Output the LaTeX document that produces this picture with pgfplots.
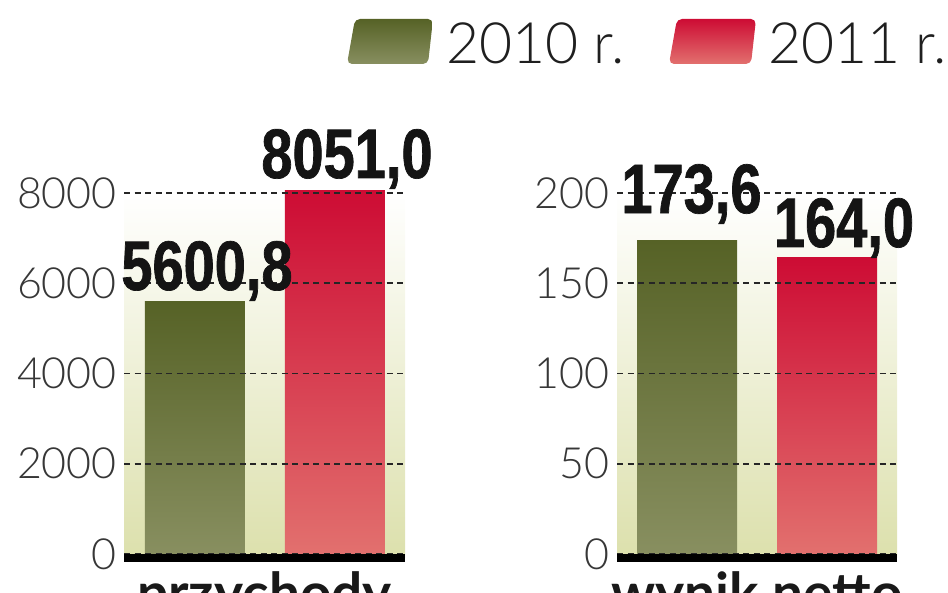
\documentclass[border=0pt]{standalone}
\usepackage{fontspec}
\usepackage{pgfplots}
\pgfplotsset{compat=1.18}
\setmainfont{Lato}
\newfontfamily\lightfont{Lato Light}
\newfontfamily\valfont[FakeStretch=0.8, FakeBold=1]{Liberation Sans Bold}
\definecolor{gtop}{RGB}{86,98,38}
\definecolor{gbot}{RGB}{136,143,96}
\definecolor{rtop}{RGB}{205,12,52}
\definecolor{rbot}{RGB}{226,112,110}
\definecolor{bgc}{RGB}{220,224,172}
\definecolor{tickc}{RGB}{55,55,55}
\pgfplotsset{
  panel/.style={
    anchor=south west, scale only axis, height=365pt,
    axis on top, clip=false,
    axis x line*=bottom, axis y line*=left,
    x axis line style={line width=8pt, black, -},
    y axis line style={draw=none},
    xtick=\empty, major tick length=0pt,
    ymajorgrids,
    grid style={black!85, line width=1.8pt, dash pattern=on 6pt off 4.5pt},
    /pgf/number format/1000 sep={},
    /pgf/number format/assume math mode=true,
    yticklabel style={font=\lightfont\fontsize{43}{43}\selectfont, text=tickc, inner sep=0pt, xshift=-7pt},
    axis background/.style={shade, top color=white, middle color=bgc!35, bottom color=bgc},
    xlabel style={font=\bfseries\fontsize{55}{55}\selectfont, text=black!90, anchor=base, at={(axis description cs:0.5,0)}, yshift=-55pt},
  },
  gbar/.style={ybar, bar shift=0pt, bar width=100pt, draw=none, top color=gtop, bottom color=gbot},
  rbar/.style={ybar, bar shift=0pt, bar width=100pt, draw=none, top color=rtop, bottom color=rbot},
}
\tikzset{lab/.style={anchor=base, font=\valfont\fontsize{70}{70}\selectfont, text=black!92, inner sep=0pt}}
\begin{document}
\begin{tikzpicture}[x=1pt,y=1pt]
\useasboundingbox (0,0) rectangle (948,593);
% legend
\shade[top color=gtop, bottom color=gbot, rounded corners=5pt]
  (355,574) -- (433,574) -- (428,529) -- (347,529) -- cycle;
\node[anchor=base west, inner sep=0pt, font=\lightfont\fontsize{57}{57}\selectfont, text=black!88] at (446,529) {2010 r.};
\shade[top color=rtop, bottom color=rbot, rounded corners=5pt]
  (677,574) -- (756,574) -- (751,529) -- (669,529) -- cycle;
\node[anchor=base west, inner sep=0pt, font=\lightfont\fontsize{57}{57}\selectfont, text=black!88] at (768,529) {2011 r.};
% left panel
\begin{axis}[panel, at={(124pt,35pt)}, width=281pt,
  xmin=-0.507, xmax=1.5, ymin=-88.6, ymax=8000,
  ytick={0,2000,4000,6000,8000}, xlabel={przychody}]
\addplot[gbar] coordinates {(0,5600.8)};
\addplot[rbar] coordinates {(1,8051.0)};
\coordinate (L1) at (axis cs:0,5600.8);
\coordinate (L2) at (axis cs:1,8051.0);
\end{axis}
% right panel
\begin{axis}[panel, at={(617pt,35pt)}, width=280pt,
  xmin=-0.5, xmax=1.5, ymin=-2.2, ymax=200,
  ytick={0,50,100,150,200}, xlabel={wynik netto}]
\addplot[gbar] coordinates {(0,173.6)};
\addplot[rbar] coordinates {(1,164.0)};
\coordinate (R1) at (axis cs:0,173.6);
\coordinate (R2) at (axis cs:1,164.0);
\end{axis}
\node[lab, xshift=12pt, yshift=11.3pt] at (L1) {5600,8};
\node[lab, xshift=12pt, yshift=12.7pt] at (L2) {8051,0};
\node[lab, xshift=4.5pt, yshift=27.6pt] at (R1) {173,6};
\node[lab, xshift=17pt, yshift=11pt] at (R2) {164,0};
\end{tikzpicture}
\end{document}
